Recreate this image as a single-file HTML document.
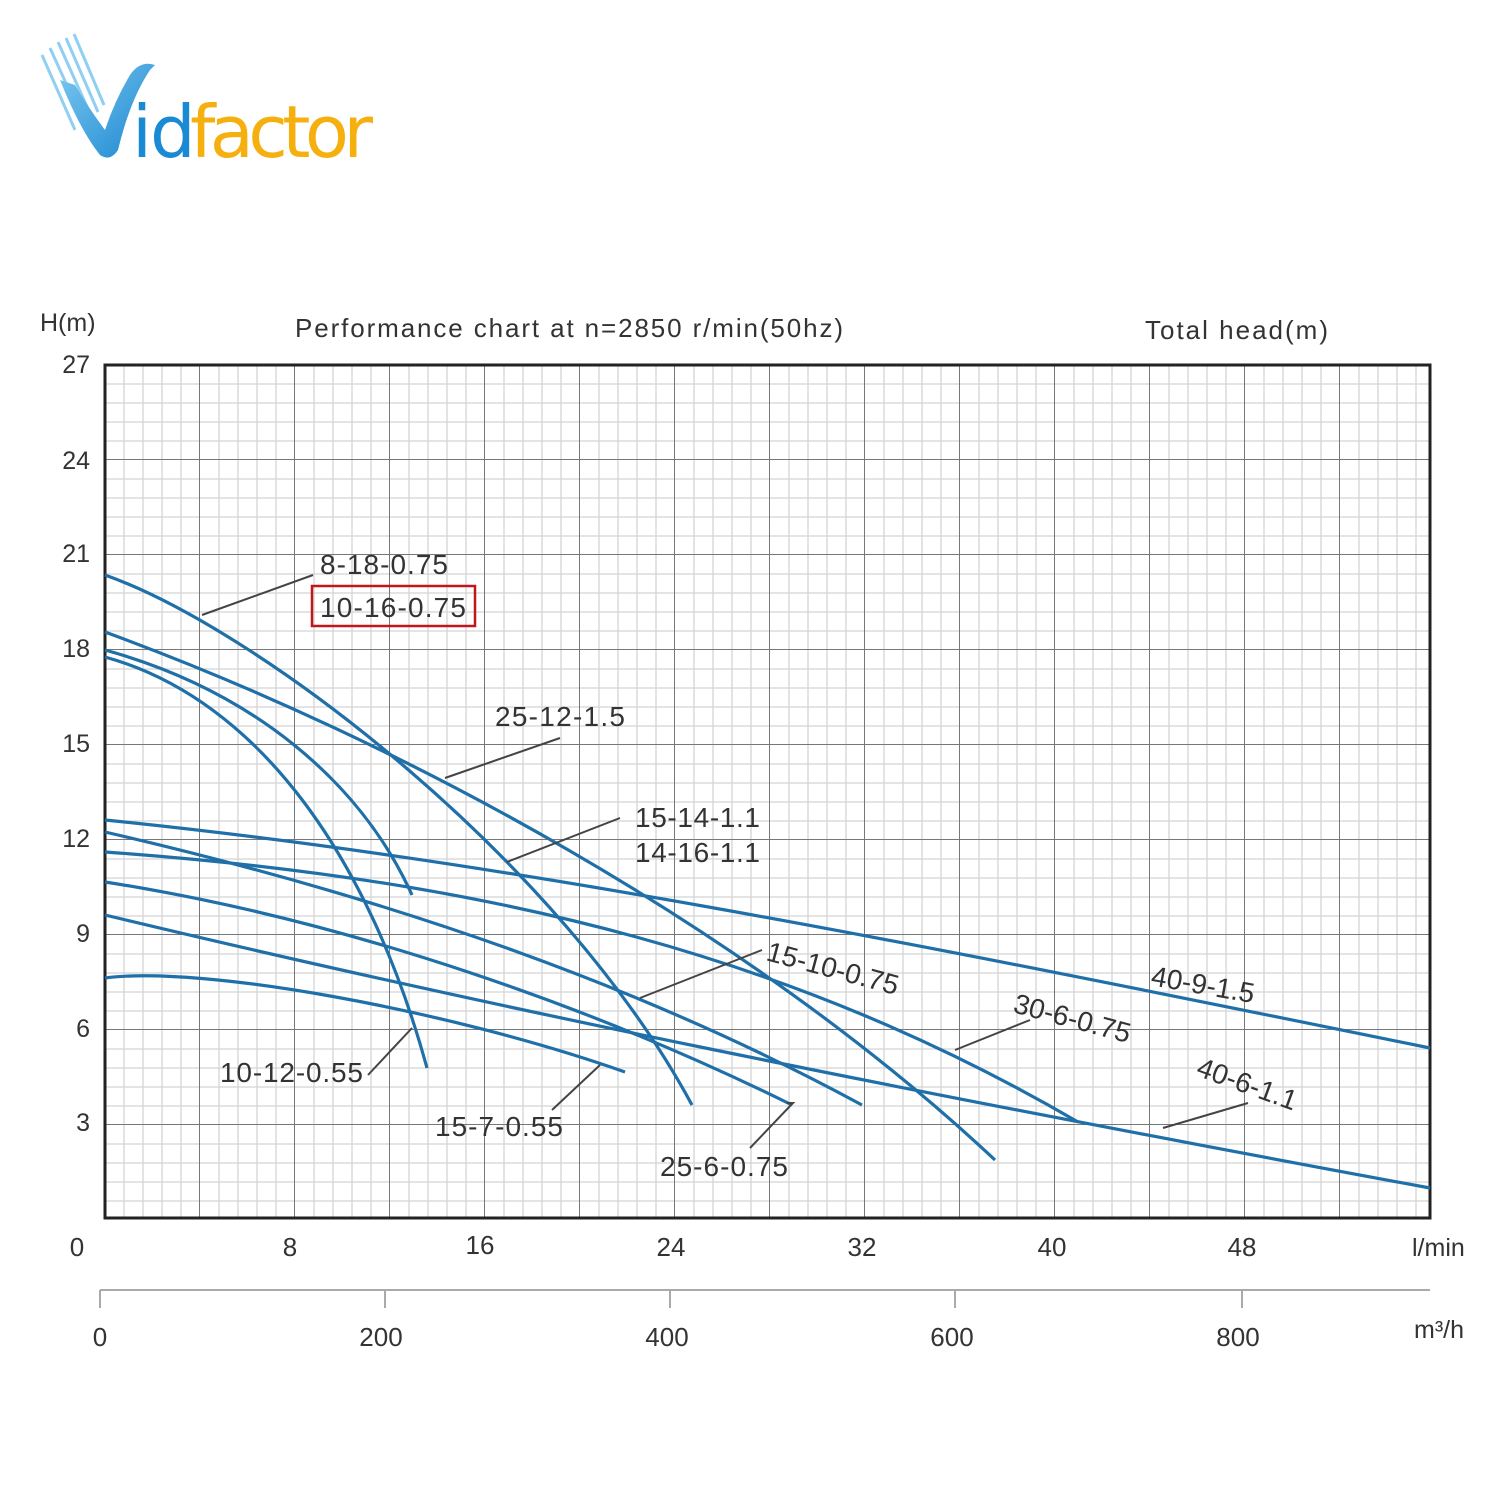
<!DOCTYPE html>
<html><head><meta charset="utf-8"><style>
html,body{margin:0;padding:0;background:#fff;width:1500px;height:1500px;overflow:hidden}
svg text{font-family:"Liberation Sans",sans-serif;fill:#333}
</style></head><body>
<svg width="1500" height="1500" viewBox="0 0 1500 1500" xmlns="http://www.w3.org/2000/svg">
<defs>
<pattern id="g" x="105" y="365" width="95" height="95" patternUnits="userSpaceOnUse">
<path d="M19,0V95M38,0V95M57,0V95M76,0V95M0,19H95M0,38H95M0,57H95M0,76H95" stroke="#d4d4d4" stroke-width="1.3" fill="none"/>
<path d="M95,0V95M0,95H95" stroke="#777" stroke-width="2" fill="none"/>
</pattern>
<linearGradient id="bl" x1="0" y1="0" x2="1" y2="1"><stop offset="0" stop-color="#7cc8f0"/><stop offset="1" stop-color="#1a86cf"/></linearGradient>
</defs>
<!-- logo -->
<g stroke="#8fd0f2" stroke-width="3" fill="none">
<path d="M42,55 L75,130"/><path d="M50,48 L85,125"/><path d="M58,42 L92,118"/><path d="M66,38 L98,112"/><path d="M74,34 L104,105"/>
</g>
<path d="M60,80 Q80,130 100,155 Q110,162 118,150 Q130,100 150,70 L155,65 Q140,60 130,75 Q115,100 105,130 Q90,110 75,85 Z" fill="url(#bl)"/>
<text x="132" y="157" font-size="72" style="fill:#1a8ad4;font-family:'DejaVu Sans',sans-serif" letter-spacing="-2">id</text>
<text x="190" y="157" font-size="72" style="fill:#f5b010;font-family:'DejaVu Sans',sans-serif" letter-spacing="-3" textLength="180">factor</text>
<!-- chart -->
<rect x="105" y="365" width="1325" height="853" fill="url(#g)"/>
<rect x="105" y="365" width="1325" height="853" fill="none" stroke="#222" stroke-width="3"/>
<text x="40" y="331" font-size="25">H(m)</text>
<text x="295" y="337" font-size="26" textLength="548">Performance chart at n=2850 r/min(50hz)</text>
<text x="1145" y="339" font-size="26" textLength="183">Total head(m)</text>
<g font-size="25" text-anchor="end">
<text x="90" y="373">27</text><text x="90" y="469">24</text><text x="90" y="562">21</text><text x="90" y="657">18</text><text x="90" y="752">15</text><text x="90" y="847">12</text><text x="90" y="942">9</text><text x="90" y="1037">6</text><text x="90" y="1131">3</text>
</g>
<g font-size="26" text-anchor="middle">
<text x="77" y="1256">0</text><text x="290" y="1256">8</text><text x="480" y="1254">16</text><text x="671" y="1256">24</text><text x="862" y="1256">32</text><text x="1052" y="1256">40</text><text x="1242" y="1256">48</text>
<text x="100" y="1346">0</text><text x="381" y="1346">200</text><text x="667" y="1346">400</text><text x="952" y="1346">600</text><text x="1238" y="1346">800</text>
</g>
<text x="1412" y="1256" font-size="25">l/min</text>
<text x="1414" y="1338" font-size="25">m³/h</text>
<path d="M100,1290H1430M100,1290V1308M385,1290V1308M670,1290V1308M955,1290V1308M1242,1290V1308" stroke="#aaa" stroke-width="2" fill="none"/>
<!-- curves -->
<g stroke="#1f6fa8" stroke-width="3.2" fill="none">
<path d="M105,575 C260,630 560,860 692,1105"/>
<path d="M105,632 C400,740 750,930 995,1160"/>
<path d="M105,650 C250,690 360,780 412,895"/>
<path d="M105,657 C260,700 370,860 427,1068"/>
<path d="M105,820 C500,860 900,940 1430,1048"/>
<path d="M105,832 C400,900 650,990 862,1105"/>
<path d="M105,852 C500,880 800,960 1078,1122"/>
<path d="M105,882 C350,920 600,1010 792,1105"/>
<path d="M105,915 C500,1010 900,1090 1430,1188"/>
<path d="M105,978 C200,965 450,1010 625,1072"/>
</g>
<!-- leaders -->
<g stroke="#444" stroke-width="2" fill="none">
<path d="M202,615 L313,575"/><path d="M445,778 L560,738"/><path d="M507,862 L620,818"/>
<path d="M640,998 L762,950"/><path d="M955,1050 L1030,1020"/><path d="M1163,1128 L1248,1103"/>
<path d="M368,1075 L412,1028"/><path d="M552,1110 L600,1065"/><path d="M750,1148 L793,1103 L787,1103"/>
</g>
<g font-size="28">
<text x="320" y="574" textLength="128">8-18-0.75</text>
<rect x="312" y="586" width="163" height="40" fill="none" stroke="#c0171c" stroke-width="2.5"/>
<text x="320" y="617" textLength="146">10-16-0.75</text>
<text x="495" y="726" textLength="130">25-12-1.5</text>
<text x="635" y="827" textLength="125">15-14-1.1</text>
<text x="635" y="862" textLength="125">14-16-1.1</text>
<text x="220" y="1082" textLength="143">10-12-0.55</text>
<text x="435" y="1136" textLength="128">15-7-0.55</text>
<text x="660" y="1176" textLength="128">25-6-0.75</text>
<text x="765" y="960" transform="rotate(15 765 960)">15-10-0.75</text>
<text x="1012" y="1012" transform="rotate(15 1012 1012)">30-6-0.75</text>
<text x="1150" y="985" transform="rotate(10 1150 985)">40-9-1.5</text>
<text x="1195" y="1075" transform="rotate(20 1195 1075)">40-6-1.1</text>
</g>
</svg>
</body></html>
